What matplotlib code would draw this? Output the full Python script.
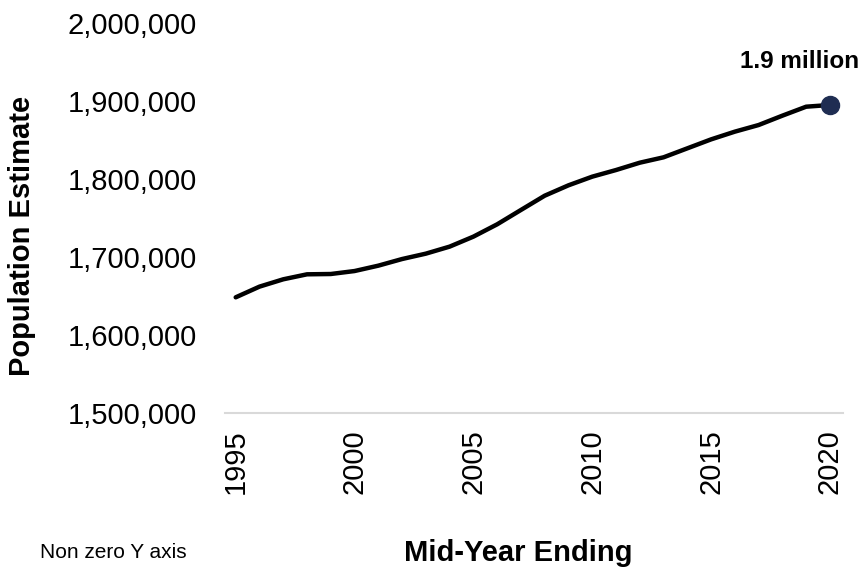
import matplotlib.pyplot as plt
from matplotlib.ticker import FuncFormatter

plt.rcParams['font.family'] = ['Liberation Sans', 'DejaVu Sans']

# mid-year population estimates
years = list(range(1995, 2021))
population = [1648300, 1662000, 1671400, 1677800, 1678200, 1682000, 1688900,
              1697400, 1704300, 1713300, 1726100, 1741900, 1760300, 1778600,
              1791900, 1803000, 1811500, 1820900, 1827800, 1839300, 1850800,
              1860700, 1869200, 1881200, 1892700, 1894900]
year_ticks = [1995, 2000, 2005, 2010, 2015, 2020]
pop_ticks = [1500000, 1600000, 1700000, 1800000, 1900000, 2000000]

W, H = 864, 571
fig = plt.figure(figsize=(W / 100, H / 100), dpi=100)
ax = fig.add_axes([225 / W, 1 - 413 / H, 618 / W, 390 / H])

ax.plot(years, population, color='black', linewidth=3.2, solid_capstyle='round',
        solid_joinstyle='round', zorder=2)
ax.plot(years[-1], population[-1], 'o', color='#1f2d52', markersize=13, zorder=3)
ax.annotate('1.9 million', (years[-1], population[-1]), xytext=(-22, 31),
            textcoords='offset points', ha='center', va='center',
            fontsize=17.5, fontweight='bold', annotation_clip=False)

ax.set_xlim(1994.55, 2020.55)
ax.set_ylim(1500000, 2000000)
ax.set_xticks(year_ticks)
ax.set_yticks(pop_ticks)
ax.yaxis.set_major_formatter(FuncFormatter(lambda v, p: f'{int(v):,}'))
ax.tick_params(axis='x', length=0, pad=12, labelsize=21, labelrotation=90)
ax.tick_params(axis='y', length=0, pad=20, labelsize=21)

for s in ['top', 'right', 'left']:
    ax.spines[s].set_visible(False)
ax.spines['bottom'].set_color('#d9d9d9')
ax.spines['bottom'].set_linewidth(1.5)

fig.text(22 / W, 1 - 236 / H, 'Population Estimate', rotation=90, ha='center',
         va='center', fontsize=21, fontweight='bold')
fig.text(518 / W, 1 - 553 / H, 'Mid-Year Ending', ha='center', va='center',
         fontsize=21, fontweight='bold')
fig.text(40 / W, 1 - 553 / H, 'Non zero Y axis', ha='left', va='center',
         fontsize=15)

fig.savefig('out.png', dpi=100)
